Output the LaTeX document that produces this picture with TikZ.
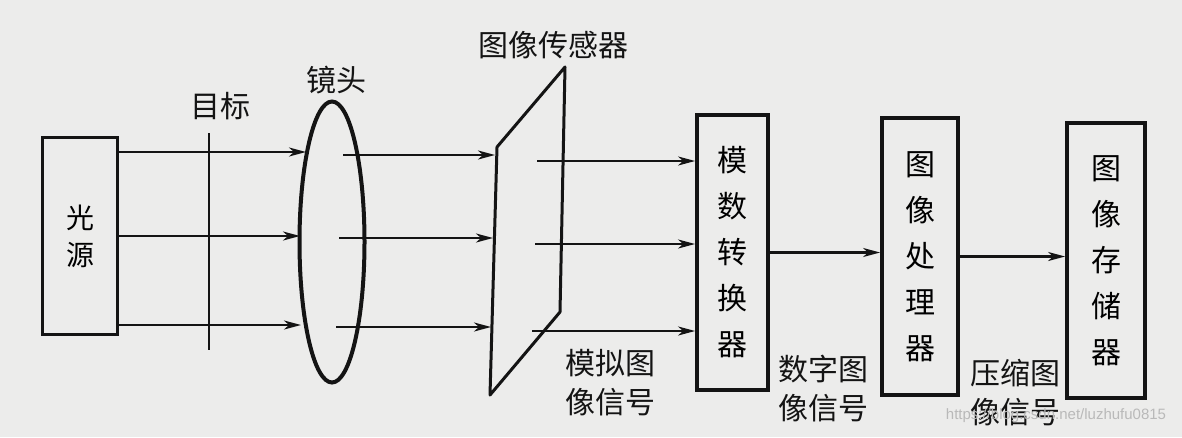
\documentclass[tikz,border=0pt]{standalone}
\usepackage{fontspec}
\newfontfamily\cjk{Noto Sans CJK SC}
\setmainfont{Liberation Sans}
\usetikzlibrary{shapes.geometric,arrows.meta}
\definecolor{paper}{RGB}{236,236,235}
\definecolor{ink}{RGB}{20,20,20}
\begin{document}
\begin{tikzpicture}[x=1pt,y=-1pt,
  box/.style={draw=ink,line width=3.8pt,fill=paper,inner sep=0pt,
    font=\cjk\fontsize{30}{46}\selectfont,align=center},
  ray/.style={draw=ink,line width=2.2pt,-{Stealth[length=17pt,width=9pt,inset=5pt]}},
  lbl/.style={font=\cjk\fontsize{30}{39}\selectfont,align=center,inner sep=0pt,text=ink}
]
\useasboundingbox (0,0) rectangle (1182,437);
\fill[paper] (0,0) rectangle (1182,437);

% light source
\node[box,minimum width=75pt,minimum height=197pt,font=\cjk\fontsize{28}{37}\selectfont] (src) at (80,236) {光\\源};

% target line
\coordinate (tgtTop) at (209,133);
\coordinate (tgtBot) at (209,350);
\draw[ink,line width=2.2pt] (tgtTop) -- (tgtBot);
\node[lbl] (tgtlbl) at (220,106) {目标};

% lens
\node[draw=ink,ellipse,line width=4pt,minimum width=65pt,minimum height=281pt,inner sep=0pt] (lens) at (332,242) {};
\node[lbl] (lenslbl) at (336,80) {镜头};

% sensor
\coordinate (sTL) at (497,147);
\coordinate (sTR) at (565,67);
\coordinate (sBR) at (560,312);
\coordinate (sBL) at (490,395);
\draw[ink,line width=3pt,line join=round] (sTL) -- (sTR) -- (sBR) -- (sBL) -- cycle;
\node[lbl] (senslbl) at (553,45) {图像传感器};

% rays source -> lens
\coordinate (l1) at (306,152);
\coordinate (l2) at (300,236);
\coordinate (l3) at (301,325);
\draw[ray] (src.east |- l1) -- (l1);
\draw[ray] (src.east |- l2) -- (l2);
\draw[ray] (src.east |- l3) -- (l3);

% rays lens -> sensor
\coordinate (a1) at (343,155);
\coordinate (a2) at (339,238);
\coordinate (a3) at (336,327);
\coordinate (b1) at (495,155);
\coordinate (b2) at (493,238);
\coordinate (b3) at (491,327);
\draw[ray] (a1) -- (b1);
\draw[ray] (a2) -- (b2);
\draw[ray] (a3) -- (b3);

% boxes
\node[box,minimum width=71pt,minimum height=275pt] (adc) at (732.5,252.5) {模\\数\\转\\换\\器};
\node[box,minimum width=76pt,minimum height=277pt] (proc) at (920,256.5) {图\\像\\处\\理\\器};
\node[box,minimum width=78pt,minimum height=275pt] (store) at (1106,260.5) {图\\像\\存\\储\\器};

% rays sensor -> adc
\coordinate (c1) at (537,161);
\coordinate (c2) at (535,244);
\coordinate (c3) at (532,331);
\draw[ray] (c1) -- (c1 -| adc.west);
\draw[ray] (c2) -- (c2 -| adc.west);
\draw[ray] (c3) -- (c3 -| adc.west);

% adc -> proc -> store
\draw[ray] (adc.east) -- (adc.east -| proc.west);
\draw[ray] (proc.east) -- (proc.east -| store.west);

% signal labels
\node[lbl] (sig1) at (610,383) {模拟图\\像信号};
\node[lbl] (sig2) at (823,389) {数字图\\像信号};
\node[lbl] (sig3) at (1015,393) {压缩图\\像信号};

% watermark
\node[inner sep=0pt,text=gray!55,font=\fontsize{15}{15}\selectfont] (wm) at (1056,416) {https://blog.csdn.net/luzhufu0815};
\end{tikzpicture}
\end{document}
